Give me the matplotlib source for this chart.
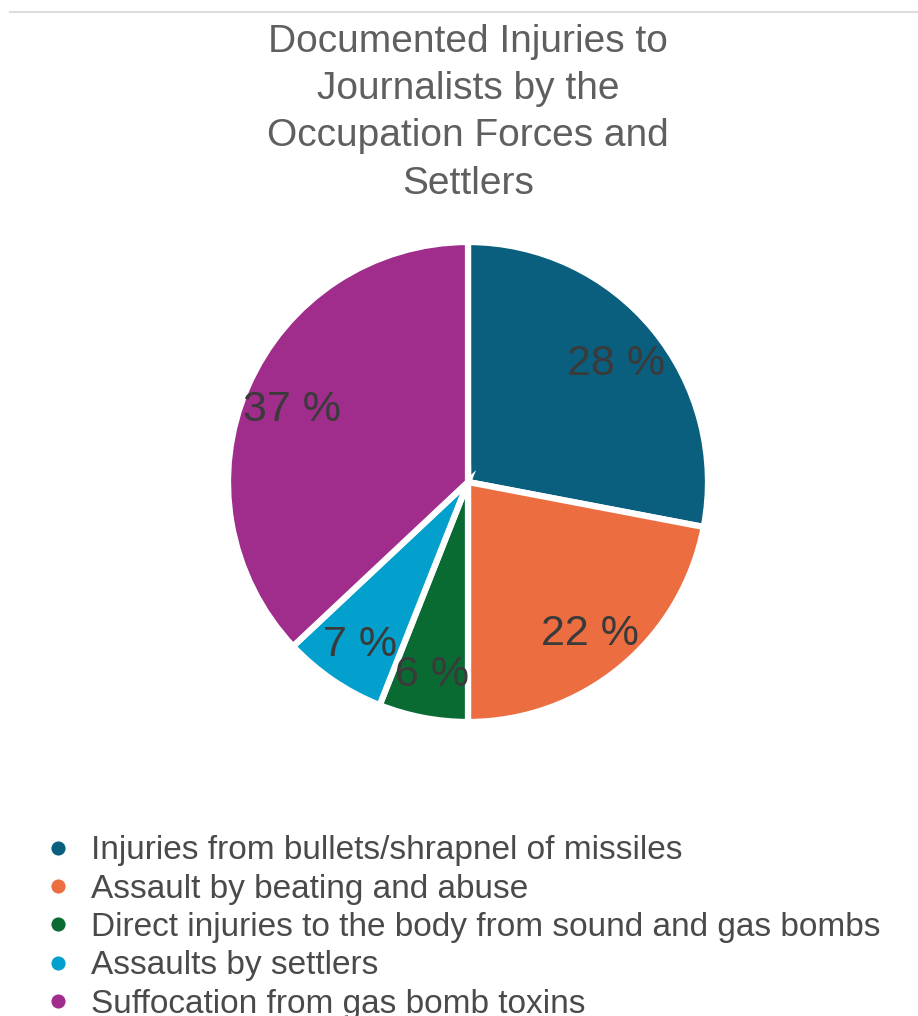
import matplotlib
matplotlib.use("Agg")
import matplotlib.pyplot as plt
from matplotlib.lines import Line2D

plt.rcParams['font.family'] = ['Liberation Sans', 'DejaVu Sans']

title = "Documented Injuries to\nJournalists by the\nOccupation Forces and\nSettlers"
categories = [
    "Injuries from bullets/shrapnel of missiles",
    "Assault by beating and abuse",
    "Direct injuries to the body from sound and gas bombs",
    "Assaults by settlers",
    "Suffocation from gas bomb toxins",
]
values = [28, 22, 6, 7, 37]
colors = ["#0b5f7e", "#ec6e40", "#0a6b32", "#04a0cd", "#a02c8b"]

W, H = 918, 1016
fig = plt.figure(figsize=(W / 100, H / 100), dpi=100)

# top border line
fig.add_artist(Line2D([10 / W, 1], [1 - 12 / H, 1 - 12 / H], color="#dddddd", lw=1.5))

cx, cy, r = 468, 482, 240
ax = fig.add_axes([(cx - r) / W, (H - cy - r) / H, 2 * r / W, 2 * r / H])
wedges, texts, autotexts = ax.pie(
    values, colors=colors, startangle=90, counterclock=False,
    autopct=lambda p: f"{p:.0f} %", pctdistance=0.8,
    wedgeprops=dict(edgecolor="white", linewidth=4.5),
    textprops=dict(color="#3a3a3a", fontsize=31),
)
for t in autotexts:
    t.set_va("center_baseline")
ax.set_xlim(-1, 1)
ax.set_ylim(-1, 1)
ax.set_aspect("equal")

fig.text(cx / W, 1 - 24 / H, title, ha="center", va="top", fontsize=28,
         color="#5f5f5f", linespacing=1.40)

handles = [Line2D([], [], marker="o", linestyle="none", markersize=11,
                  markerfacecolor=w.get_facecolor(), markeredgecolor="white",
                  markeredgewidth=0.8) for w in wedges]
fig.legend(handles, categories, loc="upper left",
           bbox_to_anchor=(28 / W, 1 - 822 / H), frameon=False,
           fontsize=24, labelcolor="#4a4a4a", handletextpad=0.5,
           labelspacing=0.22, handlelength=1.0, borderaxespad=0)

fig.savefig("out.png", dpi=100, facecolor="white")
